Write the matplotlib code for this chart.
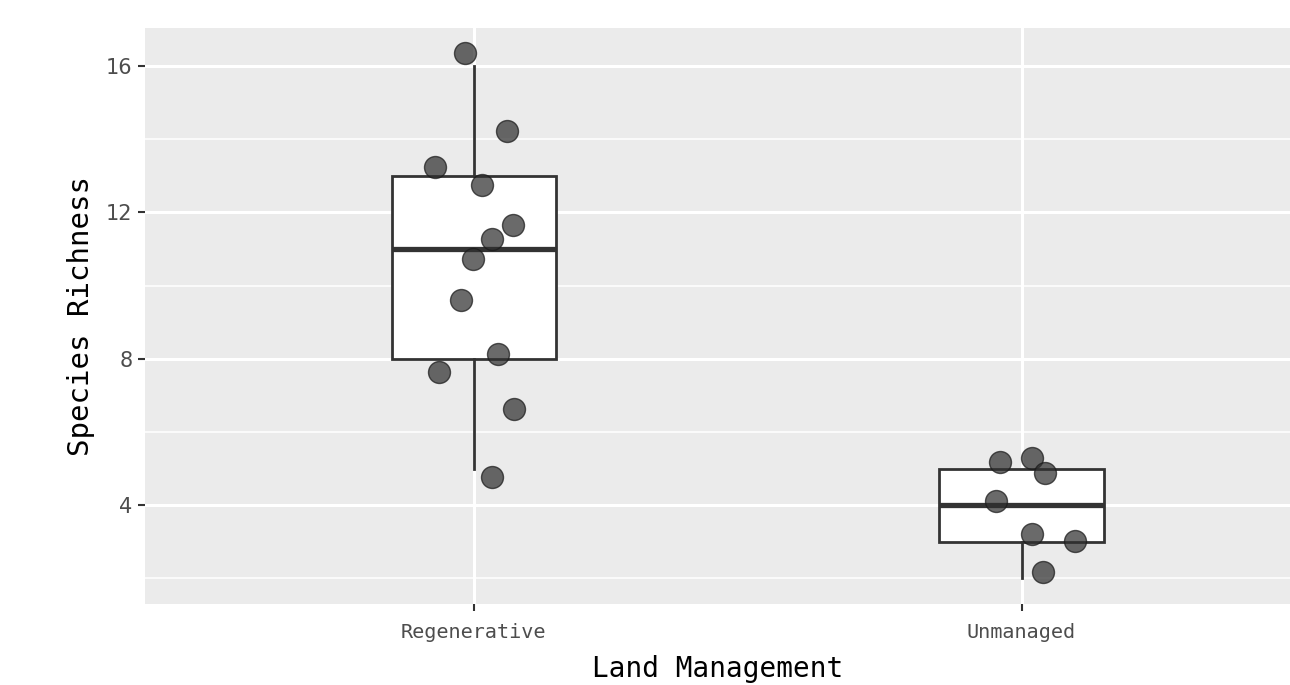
import matplotlib
matplotlib.use("Agg")
import matplotlib.pyplot as plt
import numpy as np

# Categories and box statistics
categories = ["Regenerative", "Unmanaged"]
q1 = [8, 3]
median = [11, 4]
q3 = [13, 5]
whisker_low = [5, 2]
whisker_high = [16, 5]

regen_x = [0.984, 1.060, 0.929, 1.015, 1.071, 1.033, 0.998, 0.976, 1.044, 0.936, 1.073, 1.033]
regen_y = [16.36, 14.22, 13.25, 12.75, 11.66, 11.28, 10.73, 9.61, 8.13, 7.64, 6.62, 4.76]
unman_x = [1.961, 2.019, 2.042, 1.953, 2.019, 2.097, 2.040]
unman_y = [5.17, 5.29, 4.88, 4.12, 3.21, 3.02, 2.18]

y_ticks = [4, 8, 12, 16]
y_minor = [2, 6, 10, 14]

fig = plt.figure(figsize=(12.9, 6.85), dpi=100)
ax = fig.add_axes([145 / 1290, 1 - 604 / 685, 1 - 145 / 1290, (604 - 28) / 685])
ax.set_facecolor("#EBEBEB")
for s in ax.spines.values():
    s.set_visible(False)

# grid
for y in y_minor:
    ax.axhline(y, color="white", lw=1.1, zorder=0)
for y in y_ticks:
    ax.axhline(y, color="white", lw=2.2, zorder=0)
for x in [1, 2]:
    ax.axvline(x, color="white", lw=2.2, zorder=0)

stats = []
for i, c in enumerate(categories):
    stats.append(dict(label=c, q1=q1[i], med=median[i], q3=q3[i],
                      whislo=whisker_low[i], whishi=whisker_high[i], fliers=[]))

line_col = "#333333"
ax.bxp(stats, positions=[1, 2], widths=0.3, patch_artist=True, showcaps=False,
       boxprops=dict(facecolor="white", edgecolor=line_col, linewidth=2.0),
       medianprops=dict(color=line_col, linewidth=3.8, solid_capstyle="butt"),
       whiskerprops=dict(color=line_col, linewidth=2.0), zorder=2)

pts_x = regen_x + unman_x
pts_y = regen_y + unman_y
ax.scatter(pts_x, pts_y, s=250, facecolor="#303030", edgecolor="#1a1a1a",
           linewidths=1.0, alpha=0.72, zorder=3)

ax.set_xlim(0.40, 2.49)
ax.set_ylim(1.30, 17.04)
ax.set_yticks(y_ticks)
ax.set_yticklabels([str(v) for v in y_ticks], fontsize=15, color="#4D4D4D",
                   family="DejaVu Sans")
ax.set_xticks([1, 2])
ax.set_xticklabels(categories, fontsize=14.5, color="#4D4D4D", family="DejaVu Sans Mono")
ax.tick_params(axis="both", length=5, width=1.5, color="#333333", pad=4)
ax.tick_params(axis="x", pad=9)

ax.set_xlabel("Land Management", fontsize=20, family="DejaVu Sans Mono", labelpad=9)
ax.set_ylabel("Species Richness", fontsize=21, family="DejaVu Sans Mono", labelpad=8)

fig.savefig("out.png", dpi=100)
